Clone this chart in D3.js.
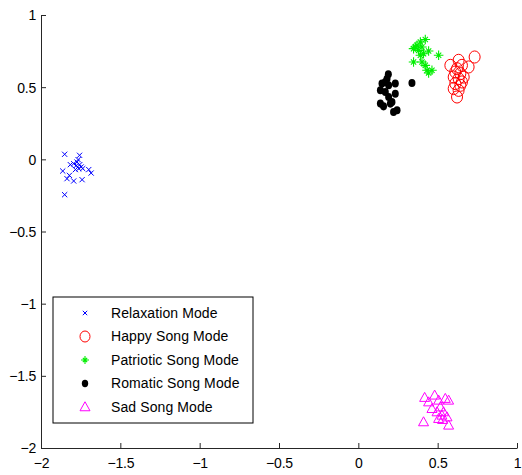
<!DOCTYPE html>
<html>
<head>
<meta charset="utf-8">
<script src="https://cdn.jsdelivr.net/npm/d3@7"></script>
<style>
  body { margin: 0; background: #fff; }
  svg text { font-family: "Liberation Sans", Arial, sans-serif; }
</style>
</head>
<body>
<script>
// cluster points
const relaxation = [
  [-1.851, 0.035], [-1.757, 0.028], [-1.815, -0.037], [-1.794, -0.03], [-1.773, -0.019],
  [-1.766, -0.002], [-1.756, -0.037], [-1.747, -0.053], [-1.762, -0.064], [-1.777, -0.042],
  [-1.863, -0.081], [-1.821, -0.111], [-1.836, -0.134], [-1.794, -0.15], [-1.741, -0.141],
  [-1.699, -0.071], [-1.684, -0.095], [-1.851, -0.245], [-1.737, -0.064], [-1.783, -0.071]
];
const happy = [
  [0.733, 0.709], [0.632, 0.686], [0.58, 0.651], [0.653, 0.651], [0.695, 0.64],
  [0.611, 0.605], [0.643, 0.594], [0.601, 0.57], [0.632, 0.559], [0.664, 0.57],
  [0.611, 0.525], [0.643, 0.513], [0.601, 0.49], [0.632, 0.478], [0.622, 0.432],
  [0.653, 0.536], [0.622, 0.628]
];
const patriotic = [
  [0.422, 0.83], [0.391, 0.813], [0.37, 0.79], [0.348, 0.767], [0.401, 0.778],
  [0.38, 0.755], [0.411, 0.732], [0.443, 0.751], [0.506, 0.721], [0.348, 0.674],
  [0.401, 0.674], [0.422, 0.651], [0.433, 0.617], [0.464, 0.617], [0.443, 0.598],
  [0.359, 0.778], [0.391, 0.721]
];
const romantic = [
  [0.181, 0.559], [0.149, 0.525], [0.139, 0.478], [0.191, 0.513], [0.233, 0.525],
  [0.17, 0.466], [0.233, 0.455], [0.191, 0.432], [0.212, 0.397], [0.139, 0.386],
  [0.159, 0.367], [0.202, 0.386], [0.222, 0.328], [0.244, 0.34], [0.338, 0.529],
  [0.17, 0.536], [0.189, 0.589]
];
const sad = [
  [0.418, -1.651], [0.481, -1.635], [0.548, -1.658], [0.443, -1.682], [0.506, -1.67],
  [0.569, -1.67], [0.464, -1.728], [0.517, -1.717], [0.496, -1.751], [0.537, -1.751],
  [0.527, -1.774], [0.559, -1.786], [0.506, -1.797], [0.411, -1.82], [0.569, -1.843],
  [0.531, -1.804]
];
const seriesNames = ["Relaxation Mode", "Happy Song Mode", "Patriotic Song Mode", "Romatic Song Mode", "Sad Song Mode"];
const xTicks = [-2, -1.5, -1, -0.5, 0, 0.5, 1];
const yTicks = [-2, -1.5, -1, -0.5, 0, 0.5, 1];

const w = 522, h = 475;
const margin = { left: 41, right: 5, top: 15, bottom: 27 };

const svg = d3.select("body").append("svg").attr("width", w).attr("height", h);

const x = d3.scaleLinear().domain([-2, 1]).range([margin.left, w - margin.right]);
const y = d3.scaleLinear().domain([-2, 1]).range([h - margin.bottom, margin.top]);

// marker drawing functions, one per series
const markers = [
  { data: relaxation, draw: (g, s) => {
      g.append("path").attr("d", `M${-s},${-s}L${s},${s}M${-s},${s}L${s},${-s}`)
        .attr("stroke", "#0000ff").attr("stroke-width", 1).attr("fill", "none");
    }, size: 2.6 },
  { data: happy, draw: (g, s) => {
      g.append("ellipse").attr("rx", s).attr("ry", s * 1.1)
        .attr("stroke", "#ff0000").attr("stroke-width", 1).attr("fill", "none");
    }, size: 5.5 },
  { data: patriotic, draw: (g, s) => {
      const d = s * 0.55;
      g.append("path")
        .attr("d", `M0,${-s}L0,${s}M${-s},0L${s},0M${-d},${-d}L${d},${d}M${-d},${d}L${d},${-d}`)
        .attr("stroke", "#00ee00").attr("stroke-width", 1.1).attr("fill", "none");
    }, size: 4.8 },
  { data: romantic, draw: (g, s) => {
      g.append("ellipse").attr("rx", s).attr("ry", s * 1.15).attr("fill", "#000");
    }, size: 3.5 },
  { data: sad, draw: (g, s) => {
      g.append("path")
        .attr("d", `M0,${-s * 1.05}L${s},${s * 0.75}L${-s},${s * 0.75}Z`)
        .attr("stroke", "#ff00ff").attr("stroke-width", 1).attr("fill", "none");
    }, size: 5 }
];

markers.forEach((m) => {
  svg.append("g")
    .selectAll("g")
    .data(m.data)
    .join("g")
    .attr("transform", (d) => `translate(${x(d[0])},${y(d[1])})`)
    .each(function () { m.draw(d3.select(this), m.size); });
});

// axes (left and bottom only, ticks pointing inward)
const xAxis = d3.axisBottom(x).tickValues(xTicks).tickSizeInner(-5).tickSizeOuter(0)
  .tickPadding(10).tickFormat(d3.format("~g"));
const yAxis = d3.axisLeft(y).tickValues(yTicks).tickSizeInner(-5).tickSizeOuter(0)
  .tickPadding(5).tickFormat(d3.format("~g"));

const gx = svg.append("g").attr("transform", `translate(0,${h - margin.bottom})`).call(xAxis);
const gy = svg.append("g").attr("transform", `translate(${margin.left},0)`).call(yAxis);

[gx, gy].forEach((g) => {
  g.select(".domain").attr("stroke", "#262626");
  g.selectAll(".tick line").attr("stroke", "#262626");
  g.selectAll("text").attr("fill", "#000").style("font-size", "14px").style("letter-spacing", "-0.2px");
});
gy.selectAll("text").attr("dy", "0.35em");

// legend
const lg = svg.append("g").attr("transform", "translate(53,297)");
lg.append("rect").attr("width", 200).attr("height", 126)
  .attr("fill", "#fff").attr("stroke", "#000").attr("stroke-width", 1);

const legendSizes = [2.2, 5, 4, 3.2, 5];
seriesNames.forEach((name, i) => {
  const row = lg.append("g").attr("transform", `translate(32,${16 + i * 23.5})`);
  markers[i].draw(row.append("g"), legendSizes[i]);
  row.append("text").attr("x", 26).attr("dy", "0.35em")
    .style("font-size", "14px").style("letter-spacing", "0.1px")
    .attr("fill", "#000").text(name);
});
</script>
</body>
</html>
